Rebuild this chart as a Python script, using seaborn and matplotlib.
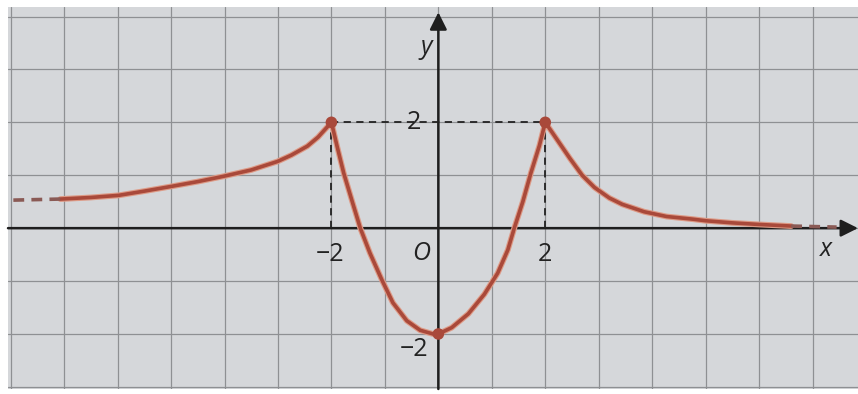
import numpy as np
import pandas as pd
import seaborn as sns
import matplotlib.pyplot as plt

# curve values
left_x = [-7.07, -6.5, -5.98, -5.5, -4.99, -4.5, -4.02, -3.5, -3.01, -2.75, -2.45, -2.25, -2.0]
left_y = [0.55, 0.58, 0.62, 0.70, 0.79, 0.88, 0.98, 1.10, 1.26, 1.38, 1.55, 1.72, 2.0]

mid_x = [-2.0, -1.89, -1.77, -1.61, -1.46, -1.28, -1.06, -0.85, -0.59, -0.34, -0.1, 0.0,
         0.25, 0.56, 0.86, 1.11, 1.30, 1.42, 1.58, 1.73, 1.89, 2.0]
mid_y = [2.0, 1.53, 1.04, 0.5, 0.0, -0.47, -0.97, -1.41, -1.75, -1.93, -2.0, -2.0,
         -1.88, -1.62, -1.25, -0.85, -0.41, 0.0, 0.5, 1.04, 1.56, 2.0]

right_x = [2.0, 2.23, 2.46, 2.69, 2.92, 3.2, 3.44, 3.85, 4.27, 4.76, 5.0, 5.5, 6.0, 6.6]
right_y = [2.0, 1.66, 1.32, 1.0, 0.77, 0.57, 0.45, 0.31, 0.22, 0.17, 0.14, 0.10, 0.07, 0.04]

left_dash_x = [-7.95, -7.07]
left_dash_y = [0.53, 0.55]
right_dash_x = [6.6, 7.45]
right_dash_y = [0.04, 0.02]

dots_x = [-2, 0, 2]
dots_y = [2, -2, 2]

tick_labels = {"x_neg": "\u22122", "x_pos": "2", "y_pos": "2", "y_neg": "\u22122"}

sns.set_style("white")
plt.rcParams['font.family'] = ['Open Sans', 'DejaVu Sans']

curve_col = "#a9493a"
glow_col = "#dd9a86"
bg = "#d5d7da"

fig = plt.figure(figsize=(8.58, 3.94), dpi=100)
fig.patch.set_facecolor("white")
ax = fig.add_axes([8 / 858, 5 / 394, 850 / 858, 382 / 394])
ax.set_facecolor(bg)
ax.set_xlim(-8.05, 7.85)
ax.set_ylim(-3.04, 4.18)

# grid
ax.set_xticks(np.arange(-8, 8))
ax.set_yticks(np.arange(-3, 5))
ax.grid(True, color="#8e9093", lw=0.9)
ax.tick_params(length=0, labelbottom=False, labelleft=False)
for s in ax.spines.values():
    s.set_visible(False)

# axes with arrows
ax.annotate("", xy=(7.85, 0), xytext=(-8.05, 0),
            arrowprops=dict(arrowstyle="-|>", color="#1e1e1e", lw=1.8, mutation_scale=26,
                            shrinkA=0, shrinkB=0))
ax.annotate("", xy=(0, 4.08), xytext=(0, -3.04),
            arrowprops=dict(arrowstyle="-|>", color="#1e1e1e", lw=1.8, mutation_scale=26,
                            shrinkA=0, shrinkB=0))

# dashed guides
ax.plot([-2, 2], [2, 2], ls=(0, (4, 3)), color="#222222", lw=1.3, zorder=3)
ax.plot([-2, -2], [0, 2], ls=(0, (4, 3)), color="#222222", lw=1.3, zorder=3)
ax.plot([2, 2], [0, 2], ls=(0, (4, 3)), color="#222222", lw=1.3, zorder=3)

# curve
for xs, ys in [(left_x, left_y), (mid_x, mid_y), (right_x, right_y)]:
    df = pd.DataFrame({"x": xs, "y": ys})
    sns.lineplot(data=df, x="x", y="y", sort=False, color=glow_col, lw=4.2, ax=ax, zorder=4,
                 solid_joinstyle="round", solid_capstyle="round")
    sns.lineplot(data=df, x="x", y="y", sort=False, color=curve_col, lw=2.6, ax=ax, zorder=5,
                 solid_joinstyle="round", solid_capstyle="round")

for xs, ys in [(left_dash_x, left_dash_y), (right_dash_x, right_dash_y)]:
    df = pd.DataFrame({"x": xs, "y": ys})
    sns.lineplot(data=df, x="x", y="y", sort=False, color="#8a5a55", lw=2.6,
                 ls=(0, (3, 2)), ax=ax, zorder=5)

sns.scatterplot(x=dots_x, y=dots_y, color=curve_col, s=70, edgecolor="none", ax=ax, zorder=6)

ax.set_xlabel("")
ax.set_ylabel("")

# labels
fs = 18
tc = "#222222"
ax.text(-2.03, -0.5, tick_labels["x_neg"], fontsize=fs, ha="center", va="center", color=tc)
ax.text(2.0, -0.5, tick_labels["x_pos"], fontsize=fs, ha="center", va="center", color=tc)
ax.text(-0.45, 2.0, tick_labels["y_pos"], fontsize=fs, ha="center", va="center", color=tc)
ax.text(-0.45, -2.3, tick_labels["y_neg"], fontsize=fs, ha="center", va="center", color=tc)
ax.text(-0.32, -0.48, "O", fontsize=fs, style="italic", ha="center", va="center", color=tc)
ax.text(-0.22, 3.42, "y", fontsize=fs, style="italic", ha="center", va="center", color=tc)
ax.text(7.25, -0.4, "x", fontsize=fs, style="italic", ha="center", va="center", color=tc)

fig.savefig("out.png", dpi=100)
